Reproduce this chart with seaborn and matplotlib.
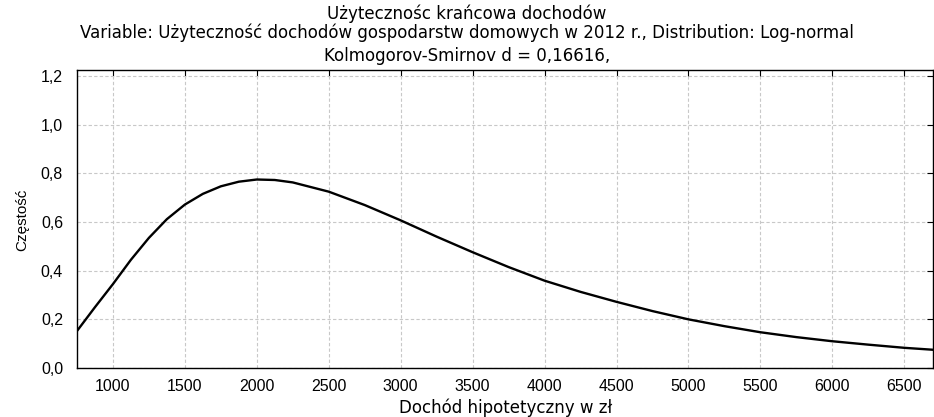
import numpy as np
import pandas as pd
import seaborn as sns
import matplotlib
matplotlib.use("Agg")
import matplotlib.pyplot as plt

# values
dochod = [750, 875, 1000, 1125, 1250, 1375, 1500, 1625, 1750, 1875, 2000, 2125, 2250, 2500,
          2750, 3000, 3250, 3500, 3750, 4000, 4250, 4500, 4750, 5000, 5250, 5500, 5750,
          6000, 6250, 6500, 6700]
czestosc = [0.152, 0.250, 0.345, 0.445, 0.535, 0.612, 0.672, 0.716, 0.747, 0.766, 0.775,
            0.773, 0.763, 0.725, 0.670, 0.607, 0.540, 0.476, 0.415, 0.359, 0.313, 0.272,
            0.234, 0.200, 0.172, 0.147, 0.127, 0.110, 0.096, 0.083, 0.075]

x_ticks = [1000, 1500, 2000, 2500, 3000, 3500, 4000, 4500, 5000, 5500, 6000, 6500]
y_ticks = [0.0, 0.2, 0.4, 0.6, 0.8, 1.0, 1.2]
y_labels = ["0,0", "0,2", "0,4", "0,6", "0,8", "1,0", "1,2"]

title1 = "Użytecznośc krańcowa dochodów"
title2 = "Variable: Użyteczność dochodów gospodarstw domowych w 2012 r., Distribution: Log-normal"
title3 = "Kolmogorov-Smirnov d = 0,16616,"

df = pd.DataFrame({"dochod": dochod, "czestosc": czestosc})

sns.set_style("white")
plt.rcParams["font.family"] = ["Liberation Sans", "DejaVu Sans"]
plt.rcParams["text.color"] = "black"

fig = plt.figure(figsize=(9.34, 4.17), dpi=100)
ax = fig.add_axes([0.0824, 0.1175, 0.9166, 0.7145])

sns.lineplot(data=df, x="dochod", y="czestosc", color="black", linewidth=1.7, ax=ax)

ax.set_xlim(750, 6700)
ax.set_ylim(0, 1.225)
ax.set_xticks(x_ticks)
ax.set_xticklabels([str(v) for v in x_ticks], fontsize=11.5)
ax.set_yticks(y_ticks)
ax.set_yticklabels(y_labels, fontsize=11.5)
ax.tick_params(direction="in", length=4, width=0.8, top=True, right=True, colors="black")
ax.tick_params(axis="x", pad=8)
ax.tick_params(axis="y", pad=10)
ax.grid(True, color="#c8c8c8", linestyle=(0, (3, 2)), linewidth=0.8)
for s in ax.spines.values():
    s.set_color("black")
    s.set_linewidth(1.0)

ax.set_xlabel("")
ax.set_ylabel("")
fig.text(0.541, 0.022, "Dochód hipotetyczny w zł", ha="center", va="center",
         fontsize=12, family="DejaVu Sans")
fig.text(0.0236, 0.472, "Częstość", ha="center", va="center", rotation=90, fontsize=11)

fig.text(0.5, 0.966, title1, ha="center", va="center", fontsize=12, family="DejaVu Sans")
fig.text(0.5, 0.921, title2, ha="center", va="center", fontsize=12, family="DejaVu Sans")
fig.text(0.5, 0.866, title3, ha="center", va="center", fontsize=12, family="DejaVu Sans")

fig.savefig("out.png", dpi=100)
